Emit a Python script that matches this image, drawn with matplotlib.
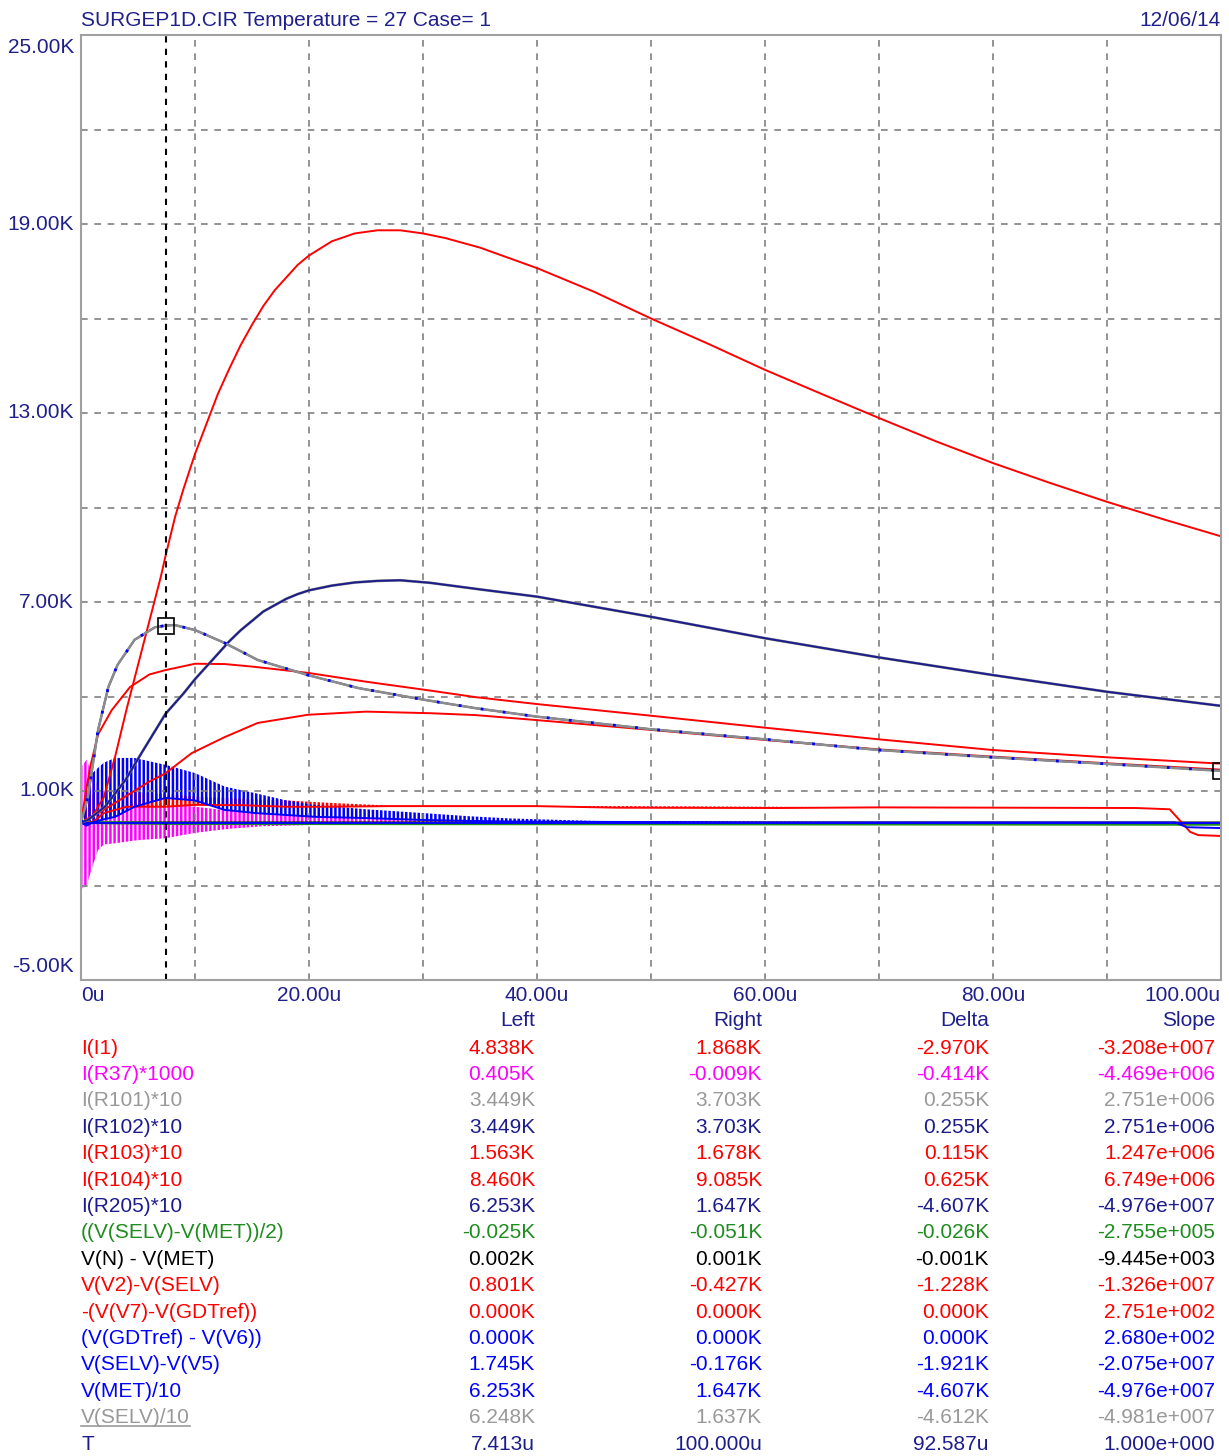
import numpy as np
import matplotlib.pyplot as plt
from matplotlib.lines import Line2D

plt.rcParams['font.family'] = ['Liberation Sans', 'DejaVu Sans']
plt.rcParams['hatch.linewidth'] = 1.8

# ---- traces, values in K (time in us) ----
t_r104 = [0, 1, 2, 3, 4, 5, 6, 7, 7.413, 8.25, 9, 10, 11, 12, 13, 14, 15, 16, 17, 18, 19, 20,
          22, 24, 26, 28, 30, 32, 35, 40, 45, 50, 55, 60, 65, 70, 75, 80, 85, 90, 95, 100]
i_r104 = [0, 0.2, 0.8, 2.1, 3.6, 5.0, 6.4, 7.8, 8.46, 9.7, 10.6, 11.7, 12.65, 13.6, 14.4,
          15.15, 15.8, 16.4, 16.9, 17.3, 17.7, 18.0, 18.45, 18.7, 18.8, 18.8, 18.7, 18.55,
          18.25, 17.6, 16.85, 16.0, 15.2, 14.37, 13.6, 12.84, 12.1, 11.41, 10.78, 10.18, 9.62,
          9.085]

t_i1 = [0, 0.4, 0.8, 1.5, 2.7, 4.3, 6, 7.413, 10, 12.6, 15, 17, 19.9, 25, 30.6, 34.6, 40, 50,
        60, 70, 80, 90, 100]
i_i1 = [0, 0.9, 1.76, 2.8, 3.57, 4.3, 4.7, 4.838, 5.04, 5.03, 4.95, 4.87, 4.75, 4.47, 4.19,
        3.98, 3.76, 3.39, 3.01, 2.64, 2.30, 2.07, 1.868]

t_r103 = [0, 2, 4, 6, 7.413, 9.7, 12.6, 15.5, 19.9, 25, 30.6, 34.6, 40, 50, 60, 70, 80, 90, 100]
i_r103 = [0, 0.4, 0.85, 1.3, 1.563, 2.2, 2.71, 3.16, 3.42, 3.52, 3.47, 3.41, 3.25, 2.94, 2.62,
          2.32, 2.09, 1.88, 1.678]

t_r102 = [0, 0.6, 2.1, 3.9, 5.3, 7.413, 9, 10, 11, 12, 13, 14, 15, 16, 17, 18, 19, 20, 22, 24,
          26, 28, 30.6, 35, 40, 50, 60, 70, 80, 90, 100]
i_r102 = [0, 0.08, 0.5, 1.35, 2.2, 3.449, 4.1, 4.55, 4.95, 5.35, 5.75, 6.1, 6.4, 6.7, 6.9,
          7.1, 7.25, 7.37, 7.52, 7.62, 7.67, 7.69, 7.61, 7.4, 7.17, 6.53, 5.85, 5.24, 4.68,
          4.15, 3.703]
i_r101 = i_r102

t_selv = [0, 0.6, 1.5, 2.4, 3.2, 4.7, 6.5, 7.413, 8.2, 10, 12.6, 15.5, 19.9, 24.3, 30.2, 34.6,
          40, 50, 60, 70, 80, 90, 100]
v_selv10 = [0, 0.8, 2.94, 4.3, 5.0, 5.8, 6.2, 6.248, 6.27, 6.11, 5.7, 5.16, 4.68, 4.27, 3.89,
            3.63, 3.36, 2.96, 2.64, 2.30, 2.07, 1.86, 1.637]
v_met10 = [0, 0.8, 2.94, 4.3, 5.0, 5.8, 6.2, 6.253, 6.27, 6.11, 5.7, 5.16, 4.68, 4.27, 3.89,
           3.63, 3.36, 2.96, 2.64, 2.30, 2.07, 1.86, 1.647]
i_r205 = v_met10

# ringing traces: upper / lower envelope
t_v5 = [0, 0.5, 1, 2, 3, 4.7, 7.413, 10, 12.6, 15.3, 17.9, 20.5, 25, 30, 34, 37.6, 45, 60, 96,
        97, 100]
v5_hi = [0, 1.2, 1.57, 1.9, 2.05, 2.05, 1.83, 1.57, 1.14, 0.93, 0.71, 0.56, 0.42, 0.30, 0.2,
         0.13, 0.05, 0.02, 0.02, -0.15, -0.176]
v5_lo = [0, -0.1, 0.0, 0.1, 0.18, 0.5, 0.78, 0.7, 0.4, 0.3, 0.24, 0.18, 0.14, 0.08, 0.05, 0.03,
         0.02, 0.0, 0.0, -0.15, -0.176]

t_r37 = [0, 0.1, 0.5, 1, 1.5, 2, 3, 5, 7.413, 10, 13, 16, 20, 25, 30, 40, 60, 75, 100]
r37_hi = [0, 1.8, 2.0, 1.5, 1.16, 0.8, 0.5, 0.62, 0.6, 0.5, 0.38, 0.3, 0.22, 0.15, 0.1, 0.05,
          0.03, 0.0, -0.009]
r37_lo = [0, -2.1, -2.0, -1.4, -0.87, -0.7, -0.66, -0.56, -0.5, -0.33, -0.2, -0.12, -0.08,
          -0.05, -0.04, -0.05, -0.05, -0.03, -0.009]

t_v2 = [0, 1, 2, 4, 7.413, 10, 14, 18, 22, 27, 40, 47, 61, 70, 92.5, 95.5, 97.3, 98, 100]
v2_hi = [0, 0.9, 1.0, 0.98, 0.9, 0.82, 0.75, 0.7, 0.62, 0.54, 0.52, 0.52, 0.5, 0.48, 0.46,
         0.42, -0.3, -0.4, -0.427]
v2_lo = [0, 0.0, 0.3, 0.5, 0.5, 0.56, 0.55, 0.5, 0.5, 0.52, 0.52, 0.47, 0.46, 0.48, 0.46,
         0.42, -0.3, -0.4, -0.427]

t_flat = [0, 7.413, 100]
v_diff = [0, -0.025, -0.051]
v_n_met = [0, 0.002, 0.001]
v_v7 = [0, 0.0, 0.0]
v_gdt = [0, 0.0, 0.0]

cursor_left, cursor_right = 7.413, 100.0

# ---- readout table ----
names = ['I(I1)', 'I(R37)*1000', 'I(R101)*10', 'I(R102)*10', 'I(R103)*10', 'I(R104)*10',
         'I(R205)*10', '((V(SELV)-V(MET))/2)', 'V(N) - V(MET)', 'V(V2)-V(SELV)',
         '-(V(V7)-V(GDTref))', '(V(GDTref) - V(V6))', 'V(SELV)-V(V5)', 'V(MET)/10',
         'V(SELV)/10', 'T']
left = ['4.838K', '0.405K', '3.449K', '3.449K', '1.563K', '8.460K', '6.253K', '-0.025K',
        '0.002K', '0.801K', '0.000K', '0.000K', '1.745K', '6.253K', '6.248K', '7.413u']
right = ['1.868K', '-0.009K', '3.703K', '3.703K', '1.678K', '9.085K', '1.647K', '-0.051K',
         '0.001K', '-0.427K', '0.000K', '0.000K', '-0.176K', '1.647K', '1.637K', '100.000u']
delta = ['-2.970K', '-0.414K', '0.255K', '0.255K', '0.115K', '0.625K', '-4.607K', '-0.026K',
         '-0.001K', '-1.228K', '0.000K', '0.000K', '-1.921K', '-4.607K', '-4.612K', '92.587u']
slope = ['-3.208e+007', '-4.469e+006', '2.751e+006', '2.751e+006', '1.247e+006', '6.749e+006',
         '-4.976e+007', '-2.755e+005', '-9.445e+003', '-1.326e+007', '2.751e+002', '2.680e+002',
         '-2.075e+007', '-4.976e+007', '-4.981e+007', '1.000e+000']
columns = ['Left', 'Right', 'Delta', 'Slope']

RED, MAG, GRAY, NAVY = '#ff0000', '#ff00ff', '#8c8c8c', '#1c1c8c'
GREEN, BLUE, BLACK = '#1e8c1e', '#0000ff', '#000000'
row_colors = [RED, MAG, '#999999', NAVY, RED, RED, NAVY, GREEN, BLACK, RED, RED, BLUE, BLUE,
              BLUE, '#999999', NAVY]
LABEL = '#20208c'

W, H = 1229, 1456
fig = plt.figure(figsize=(W / 100, H / 100), dpi=100)
ax = fig.add_axes([81 / W, 1 - 980 / H, 1140 / W, 945 / H])
ax.set_xlim(0, 100)
ax.set_ylim(-5, 25)
ax.set_xticks(np.arange(0, 101, 10))
ax.set_yticks(np.arange(-5, 26, 3))
ax.tick_params(length=0, labelbottom=False, labelleft=False)
ax.grid(True, color='#808080', ls=(0, (4, 4)), lw=1.2)
for s in ax.spines.values():
    s.set_color('#a0a0a0')
    s.set_linewidth(1.5)

lw = 1.4
# near-zero traces
ax.plot(t_flat, v_n_met, color=BLACK, lw=lw)
ax.plot(t_flat, v_v7, color=RED, lw=lw)
ax.plot(t_flat, v_diff, color=GREEN, lw=2.4)

# ringing traces drawn as hatched envelopes
ax.fill_between(t_r37, r37_lo, r37_hi, facecolor='none', edgecolor=MAG, hatch='||||', lw=0)
ax.fill_between(t_v2, v2_lo, v2_hi, facecolor='none', edgecolor=RED, hatch='||||', lw=0)
ax.plot(t_v2, v2_lo, color=RED, lw=lw)
ax.fill_between(t_v5, v5_lo, v5_hi, facecolor='none', edgecolor=BLUE, hatch='||||', lw=0)
ax.plot(t_v5, v5_lo, color=BLUE, lw=lw)
ax.plot(t_flat, v_gdt, color=BLUE, lw=lw)

# smooth traces
ax.plot(t_r103, i_r103, color=RED, lw=lw)
ax.plot(t_i1, i_i1, color=RED, lw=lw)
ax.plot(t_r104, i_r104, color=RED, lw=lw)
ax.plot(t_r102, i_r101, color=GRAY, lw=lw + 0.6)
ax.plot(t_r102, i_r102, color=NAVY, lw=lw)
ax.plot(t_selv, i_r205, color=NAVY, lw=lw)
ax.plot(t_selv, v_selv10, color=GRAY, lw=lw + 0.4)
ax.plot(t_selv, v_met10, color=BLUE, lw=2.0, ls=(0, (1, 7)))

# cursors
ax.axvline(cursor_left, color=BLACK, ls=(0, (3, 3)), lw=1.5)
ax.plot([cursor_left, cursor_right], [v_selv10[t_selv.index(cursor_left)], v_selv10[-1]],
        ls='none', marker='s', ms=11, mfc='none', mec=BLACK, mew=1.2, clip_on=True)

# axis labels
fs = 15
xlab = np.arange(0, 101, 20)
for x in xlab:
    txt = '0u' if x == 0 else f'{x:.2f}u'
    ha = 'left' if x == 0 else ('right' if x == 100 else 'center')
    ax.text(x, -0.0065, txt, transform=ax.get_xaxis_transform(), ha=ha, va='top',
            fontsize=fs, color=LABEL)
ylab = np.arange(-5, 26, 6)
for y in ylab:
    va = 'bottom' if y == -5 else ('top' if y == 25 else 'center')
    off = 0.004 if y == -5 else (-0.003 if y == 25 else 0)
    ax.text(-0.006, (y + 5) / 30 + off, f'{y:.2f}K', transform=ax.transAxes, ha='right', va=va,
            fontsize=fs, color=LABEL)

fig.text(81 / W, 1 - 21 / H, 'SURGEP1D.CIR Temperature = 27 Case= 1', ha='left', va='center',
         fontsize=fs, color=LABEL)
fig.text(1221 / W, 1 - 21 / H, '12/06/14', ha='right', va='center', fontsize=fs, color=LABEL)

# readout table
col_x = [535, 762, 989, 1215]
for cx, c in zip(col_x, columns):
    fig.text(cx / W, 1 - 1021 / H, c, ha='right', va='center', fontsize=fs, color=LABEL)
row_y0, row_dy = 1048, 26.4
under = None
for i, name in enumerate(names):
    y = 1 - (row_y0 + i * row_dy) / H
    t = fig.text(81 / W, y, name, ha='left', va='center', fontsize=fs, color=row_colors[i])
    if name == 'V(SELV)/10':
        under = t
    for cx, vals in zip(col_x, [left, right, delta, slope]):
        fig.text(cx / W, y, vals[i], ha='right', va='center', fontsize=fs, color=row_colors[i])

fig.canvas.draw()
bb = under.get_window_extent()
fig.add_artist(Line2D([bb.x0 / W, bb.x1 / W], [(bb.y0 + 1) / H, (bb.y0 + 1) / H],
                      color='#999999', lw=1.2))

fig.savefig('out.png', dpi=100)
